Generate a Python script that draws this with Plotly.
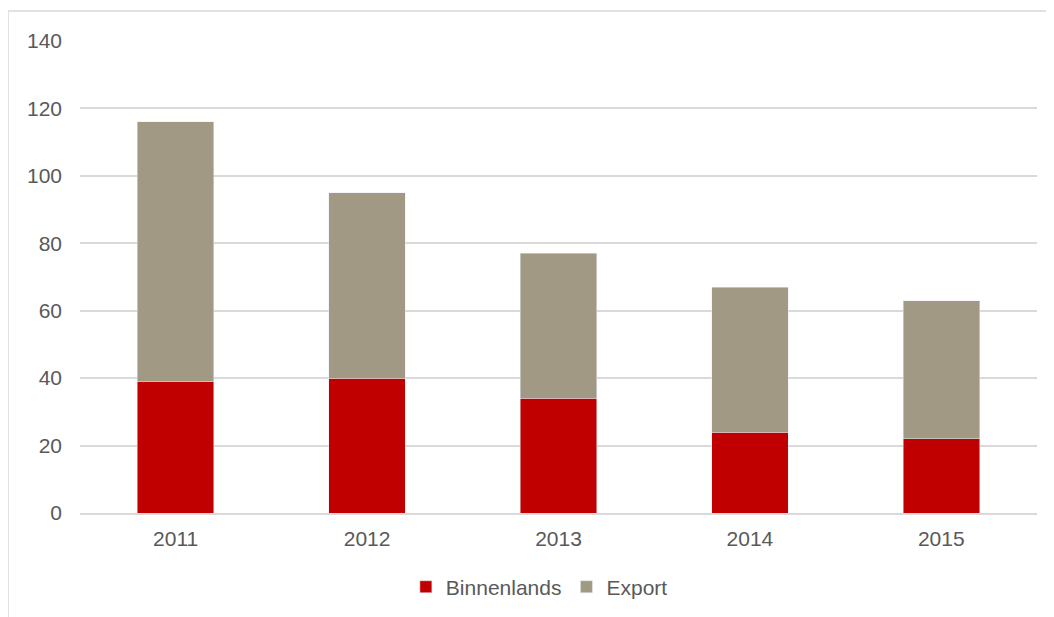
import plotly.graph_objects as go

years = ["2011", "2012", "2013", "2014", "2015"]
binnenlands = [39, 40, 34, 24, 22]
export = [77, 55, 43, 43, 41]

FONT = "Liberation Sans, Arial, sans-serif"
TXT = "#595959"
GRID = "#d9d9d9"

fig = go.Figure()
fig.add_trace(go.Bar(x=years, y=binnenlands, name="Binnenlands", marker_color="#c00000"))
fig.add_trace(go.Bar(x=years, y=export, name="Export", marker_color="#a19984"))

# page body has an 8px margin; plot area should sit at x 80..1037, y 41..513
fig.update_layout(
    barmode="stack",
    bargap=0.6,
    width=1054, height=617,
    margin=dict(l=72, r=25, t=33, b=112),
    paper_bgcolor="white", plot_bgcolor="white",
    font=dict(family=FONT, size=21, color=TXT),
    showlegend=True,
    legend=dict(orientation="h", x=0.48, xanchor="center", y=-0.157, yanchor="middle",
                font=dict(size=21, color=TXT), itemwidth=30, traceorder="normal"),
    shapes=[dict(type="rect", xref="paper", yref="paper", x0=-0.0752, x1=1.2,
                 y0=-0.5, y1=1.0636, line=dict(color=GRID, width=1.5), layer="below")],
)
fig.update_yaxes(range=[0, 140], dtick=20, showgrid=True, gridcolor=GRID, gridwidth=1.5,
                 zeroline=False, showline=False, ticks="", ticklabelstandoff=17,
                 tickfont=dict(size=21, color=TXT))
fig.update_xaxes(showline=True, linecolor=GRID, linewidth=1.5, ticks="", ticklabelstandoff=6,
                 tickfont=dict(size=21, color=TXT))

fig.write_html("out.html")
